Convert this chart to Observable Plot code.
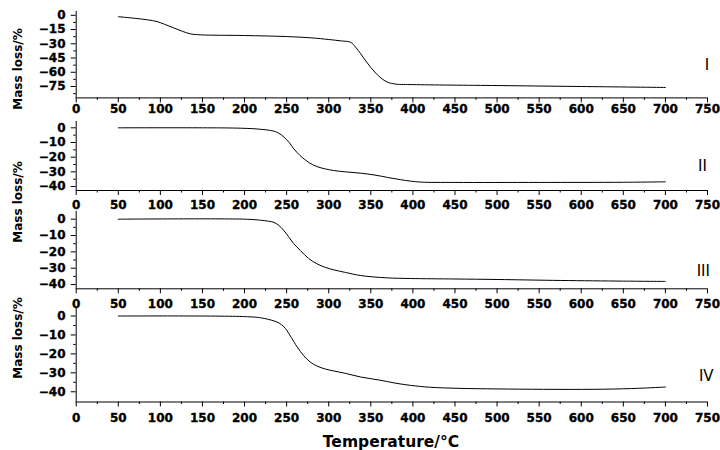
<!DOCTYPE html>
<html><head><meta charset="utf-8">
<script src="https://cdn.jsdelivr.net/npm/d3@7"></script>
<script src="https://cdn.jsdelivr.net/npm/@observablehq/plot@0.6"></script>
<style>
body{margin:0;background:#fff;}
#chart{position:relative;width:720px;height:450px;overflow:hidden;background:#fff;}
.panel{position:absolute;left:0;}
.panel g[aria-label$="tick label"]{stroke:#000;stroke-width:0.35px;}
.ylab{position:absolute;font:bold 12px "DejaVu Sans",sans-serif;color:#000;transform:translate(-50%,-50%) rotate(-90deg);white-space:nowrap;}
.xlab{position:absolute;font:bold 15.5px "DejaVu Sans",sans-serif;color:#000;transform:translate(-50%,-50%);white-space:nowrap;}
</style></head><body><div id="chart"></div><script>
// ---- data ----
const sampleNames = ["I", "II", "III", "IV"];
const tempI = [50,70,85,96,105,116,126,136,148,200,250,280,300,315,326,332,338,344,350,356,362,370,380,400,500,600,700];
const massI = [-1.5,-3.2,-4.8,-6.6,-9.5,-13.3,-16.8,-19.6,-20.6,-21.3,-22.4,-23.8,-25.5,-27,-28.4,-33.6,-40.6,-48,-55,-61,-66,-70.5,-72.5,-73,-74,-75,-76];
const tempII = [50,150,190,215,235,241,247,253,258.5,266,276,286,296,306,320,338,355,370,385,397,410,450,550,650,700];
const massII = [0,0,-0.2,-0.8,-2.3,-3.8,-6.4,-10,-14.3,-18.9,-23.5,-26.4,-28,-29.1,-30,-30.9,-32.2,-33.8,-35.3,-36.3,-37,-37.2,-37.2,-37.1,-36.8];
const tempIII = [50,200,220,235,241,246.6,252,258.5,266.4,276,286,296,306,320,338,369,397,450,500,575,650,700];
const massIII = [0,0,-0.7,-2,-3.9,-6.9,-10.5,-15,-19.2,-24,-27.3,-29.5,-31,-32.6,-34.5,-35.9,-36.3,-36.6,-36.9,-37.5,-37.9,-38.1];
const tempIV = [50,200,220,235,241,246.6,250.5,254.5,262.5,270.4,278,286,296,306,320,338,360,380,397,420,456,500,555,615,660,700];
const massIV = [0,-0.3,-1,-2.6,-3.7,-5.6,-7.8,-10.6,-16.3,-21,-24.3,-26.4,-28,-29,-30.3,-32.2,-33.8,-35.5,-36.6,-37.6,-38.2,-38.5,-38.7,-38.7,-38.3,-37.5];
const xMajor = [0,50,100,150,200,250,300,350,400,450,500,550,600,650,700,750];
const xMinor = [25,75,125,175,225,275,325,375,425,475,525,575,625,675,725];
const yMajorI = [0,-15,-30,-45,-60,-75];
const yMinorI = [-7.5,-22.5,-37.5,-52.5,-67.5,-82.5];
const yMajor40 = [0,-10,-20,-30,-40];
const yMinor40 = [-5,-15,-25,-35];
const yTitle = "Mass loss/%";
const xTitle = "Temperature/°C";

// ---- layout ----
const panels = [
  {name: sampleNames[0], t: tempI, m: massI, yDomain: [-87, 4], yMajor: yMajorI, yMinor: yMinorI,
   top: 0, height: 117, mt: 11, mb: 19.6, xPad: 1.6, lx: 749.5, ly: -53},
  {name: sampleNames[1], t: tempII, m: massII, yDomain: [-42.7, 4.3], yMajor: yMajor40, yMinor: yMinor40,
   top: 116, height: 95, mt: 5, mb: 21, xPad: 5, lx: 744, ly: -26.4},
  {name: sampleNames[2], t: tempIII, m: massIII, yDomain: [-42.6, 4.7], yMajor: yMajor40, yMinor: yMinor40,
   top: 206, height: 108.3, mt: 5, mb: 26, xPad: 5.5, lx: 745, ly: -32},
  {name: sampleNames[3], t: tempIV, m: massIV, yDomain: [-45.4, 4.5], yMajor: yMajor40, yMinor: yMinor40,
   top: 301.5, height: 125.5, mt: 5, mb: 26, xPad: 6, lx: 748.5, ly: -31.7}
];
const fmt = d => d < 0 ? "\u2212" + Math.abs(d) : String(d);
const chart = document.getElementById("chart");
for (const p of panels) {
  const rows = p.t.map((t, i) => ({t, m: p.m[i]}));
  const svg = Plot.plot({
    width: 720, height: p.height,
    marginLeft: 75.7, marginRight: 13, marginTop: p.mt, marginBottom: p.mb,
    x: {domain: [0, 750]},
    y: {domain: p.yDomain},
    style: {background: "transparent", overflow: "visible", fontFamily: "DejaVu Sans", fontSize: "12px", color: "#000"},
    marks: [
      Plot.axisY({ticks: p.yMajor, tickSize: 5, tickPadding: 5.7, tickFormat: fmt, label: null, fontSize: 12, fontWeight: "bold"}),
      Plot.axisY({ticks: p.yMinor, tickSize: 2.5, tickFormat: () => "", label: null}),
      Plot.axisX({ticks: xMajor, tickSize: 5, tickPadding: p.xPad, tickFormat: fmt, label: null, fontSize: 12, fontWeight: "bold"}),
      Plot.axisX({ticks: xMinor, tickSize: 2.5, tickFormat: () => "", label: null}),
      Plot.ruleX([0], {stroke: "#000"}),
      Plot.ruleY([p.yDomain[0]], {stroke: "#000"}),
      Plot.line(rows, {x: "t", y: "m", curve: "catmull-rom", stroke: "#000", strokeWidth: 1}),
      Plot.text([p.name], {x: () => p.lx, y: () => p.ly, text: d => d, fontSize: 15, letterSpacing: "1.5px", fill: "#000"})
    ]
  });
  svg.classList.add("panel");
  svg.style.top = p.top + "px";
  chart.appendChild(svg);
}
function addLabel(cls, text, x, y) {
  const d = document.createElement("div");
  d.className = cls; d.textContent = text;
  d.style.left = x + "px"; d.style.top = y + "px";
  chart.appendChild(d);
}
addLabel("ylab", yTitle, 18, 69);
addLabel("ylab", yTitle, 18, 202);
addLabel("ylab", yTitle, 18, 337.5);
addLabel("xlab", xTitle, 391, 442);
</script></body></html>
